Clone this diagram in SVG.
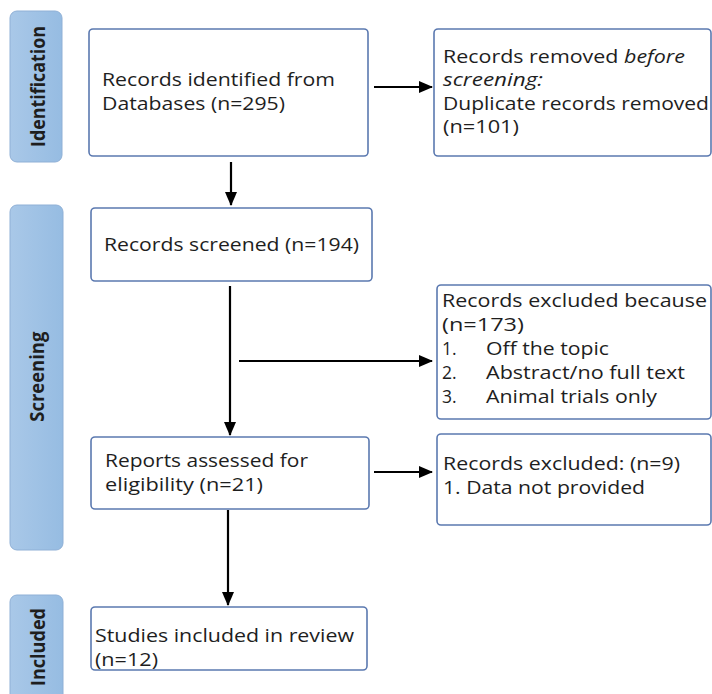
<svg xmlns="http://www.w3.org/2000/svg" width="712" height="694" viewBox="0 0 712 694">
<defs>
<marker id="ah" markerWidth="14" markerHeight="12" refX="13" refY="6" orient="auto" markerUnits="userSpaceOnUse">
<path d="M0,0 L14,6 L0,12 z" fill="#000"/>
</marker>
<linearGradient id="sg" x1="0" y1="0" x2="1" y2="0">
<stop offset="0" stop-color="#a9c8e8"/>
<stop offset="1" stop-color="#96bce2"/>
</linearGradient>
</defs>
<style>
.side{fill:url(#sg);stroke:#8fb0d6;stroke-width:1}
.box{fill:#fff;stroke:#5b79b0;stroke-width:1.6}
.st{font-family:"Open Sans","Liberation Sans",sans-serif;font-weight:bold;font-size:20px;fill:#1e1e1e}
.t{font-family:"Open Sans","Liberation Sans",sans-serif;font-size:17.5px;fill:#1e1e1e}
.c{stroke:#000;stroke-width:2.2;fill:none}
</style>
<rect width="712" height="694" fill="#fff"/>
<g id="identification">
<rect class="side" x="10" y="11" width="52" height="151" rx="7"/>
<text class="st" transform="translate(44.5,86.5) rotate(-90)" text-anchor="middle" textLength="121" lengthAdjust="spacingAndGlyphs">Identification</text>
</g>
<g id="screening">
<rect class="side" x="10" y="205" width="53" height="345" rx="7"/>
<text class="st" transform="translate(43.5,376.7) rotate(-90)" text-anchor="middle" textLength="90" lengthAdjust="spacingAndGlyphs">Screening</text>
</g>
<g id="included">
<rect class="side" x="10" y="595" width="53" height="110" rx="7"/>
<text class="st" transform="translate(45,647) rotate(-90)" text-anchor="middle" textLength="78" lengthAdjust="spacingAndGlyphs">Included</text>
</g>
<g id="identified">
<rect class="box" x="89" y="29" width="279" height="127" rx="4"/>
<text class="t" x="102" y="86" textLength="233" lengthAdjust="spacingAndGlyphs">Records identified from</text>
<text class="t" x="102" y="110" textLength="183" lengthAdjust="spacingAndGlyphs">Databases (n=295)</text>
</g>
<g id="removed">
<rect class="box" x="434" y="29" width="277" height="127" rx="4"/>
<text class="t" x="443" y="63" textLength="242" lengthAdjust="spacingAndGlyphs">Records removed <tspan font-style="italic">before</tspan></text>
<text class="t" x="443" y="86" font-style="italic" textLength="100" lengthAdjust="spacingAndGlyphs">screening:</text>
<text class="t" x="443" y="110" textLength="266" lengthAdjust="spacingAndGlyphs">Duplicate records removed</text>
<text class="t" x="443" y="133" textLength="76" lengthAdjust="spacingAndGlyphs">(n=101)</text>
</g>
<g id="screened">
<rect class="box" x="91" y="208" width="281" height="73" rx="4"/>
<text class="t" x="104" y="251" textLength="255" lengthAdjust="spacingAndGlyphs">Records screened (n=194)</text>
</g>
<g id="excluded1">
<rect class="box" x="437" y="285" width="274" height="134" rx="4"/>
<text class="t" x="442" y="307" textLength="265" lengthAdjust="spacingAndGlyphs">Records excluded because</text>
<text class="t" x="442" y="331" textLength="82" lengthAdjust="spacingAndGlyphs">(n=173)</text>
<text class="t" x="442" y="355">1.</text><text class="t" x="486" y="355" textLength="123" lengthAdjust="spacingAndGlyphs">Off the topic</text>
<text class="t" x="442" y="379">2.</text><text class="t" x="486" y="379" textLength="199" lengthAdjust="spacingAndGlyphs">Abstract/no full text</text>
<text class="t" x="442" y="403">3.</text><text class="t" x="486" y="403" textLength="171" lengthAdjust="spacingAndGlyphs">Animal trials only</text>
</g>
<g id="reports">
<rect class="box" x="91" y="437" width="278" height="72" rx="4"/>
<text class="t" x="105" y="467" textLength="203" lengthAdjust="spacingAndGlyphs">Reports assessed for</text>
<text class="t" x="105" y="491" textLength="158" lengthAdjust="spacingAndGlyphs">eligibility (n=21)</text>
</g>
<g id="excluded2">
<rect class="box" x="437" y="434" width="274" height="91" rx="4"/>
<text class="t" x="443" y="470" textLength="237" lengthAdjust="spacingAndGlyphs">Records excluded: (n=9)</text>
<text class="t" x="443" y="494" textLength="202" lengthAdjust="spacingAndGlyphs">1. Data not provided</text>
</g>
<g id="studies">
<rect class="box" x="91" y="607" width="276" height="63" rx="4"/>
<text class="t" x="95" y="642" textLength="259" lengthAdjust="spacingAndGlyphs">Studies included in review</text>
<text class="t" x="95" y="666" textLength="63" lengthAdjust="spacingAndGlyphs">(n=12)</text>
</g>
<g id="connectors">
<line class="c" x1="374" y1="87" x2="432" y2="87" marker-end="url(#ah)"/>
<line class="c" x1="231" y1="162" x2="231" y2="205" marker-end="url(#ah)"/>
<line class="c" x1="230" y1="286" x2="230" y2="435" marker-end="url(#ah)"/>
<line class="c" x1="239" y1="361" x2="432" y2="361" marker-end="url(#ah)"/>
<line class="c" x1="374" y1="472" x2="432" y2="472" marker-end="url(#ah)"/>
<line class="c" x1="228" y1="510" x2="228" y2="605" marker-end="url(#ah)"/>
</g>
</svg>
